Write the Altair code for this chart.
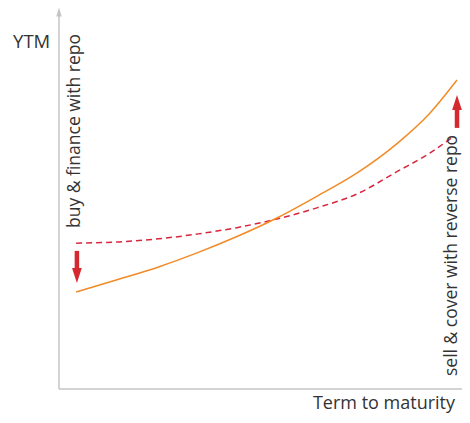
import altair as alt
import pandas as pd

# Curves (term to maturity, yield)
term_solid = [0.43, 1.5, 2.5, 3.5, 4.5, 5.5, 6.5, 7.5, 8.5, 9.3, 10.0]
ytm_solid = [3.14, 3.55, 3.95, 4.42, 4.95, 5.55, 6.25, 7.0, 7.95, 8.9, 10.0]

term_dash = [0.43, 1.5, 2.5, 3.5, 4.5, 5.5, 6.5, 7.5, 8.5, 9.3, 9.9]
ytm_dash = [4.72, 4.76, 4.86, 5.02, 5.23, 5.51, 5.87, 6.32, 7.04, 7.62, 8.16]

# annotation texts
label_left = "buy & finance with repo"
label_right = "sell & cover with reverse repo"
y_title = "YTM"
x_title = "Term to maturity"

FONT = "Open Sans"
ORANGE = "#f28a26"
RED = "#d7263d"
ARROW_RED = "#d42a2f"
AXIS_GREY = "#c4c4c4"
TEXT = "#333333"

xs = alt.Scale(domain=[0, 10], range=[51, 449], nice=False, zero=False)
ys = alt.Scale(domain=[0, 10], range=[381, 72], nice=False, zero=False)

def X(field="x"):
    return alt.X(f"{field}:Q", scale=xs, axis=None)

def Y(field="y"):
    return alt.Y(f"{field}:Q", scale=ys, axis=None)

solid = alt.Chart(pd.DataFrame({"x": term_solid, "y": ytm_solid})).mark_line(
    color=ORANGE, strokeWidth=1.5, interpolate="monotone"
).encode(x=X(), y=Y())

dashed = alt.Chart(pd.DataFrame({"x": term_dash, "y": ytm_dash})).mark_line(
    color=RED, strokeWidth=1.5, strokeDash=[6, 4], interpolate="monotone"
).encode(x=X(), y=Y())

# axes with arrow heads
axes_df = pd.DataFrame({"x": [0, 0], "y": [0, 0], "x2": [0, 10.4], "y2": [12.1, 0]})
axes = alt.Chart(axes_df).mark_rule(color=AXIS_GREY, strokeWidth=1.5).encode(
    x=X(), y=Y(), x2="x2:Q", y2="y2:Q"
)
yhead = alt.Chart(pd.DataFrame({"x": [0], "y": [12.2]})).mark_point(
    shape="M-0.6,1L0.6,1L0,-1Z", filled=True, size=81, color=AXIS_GREY, opacity=1
).encode(x=X(), y=Y())

# red arrows
shafts_df = pd.DataFrame({"x": [0.45, 10.0], "y": [4.47, 8.45], "y2": [3.85, 9.1]})
shafts = alt.Chart(shafts_df).mark_rule(color=ARROW_RED, strokeWidth=4.5).encode(
    x=X(), y=Y(), y2="y2:Q"
)
head_down = alt.Chart(pd.DataFrame({"x": [0.45], "y": [3.67]})).mark_point(
    shape="M-0.65,-1L0.65,-1L0,1Z", filled=True, size=225, color=ARROW_RED, opacity=1
).encode(x=X(), y=Y())
head_up = alt.Chart(pd.DataFrame({"x": [10.0], "y": [9.27]})).mark_point(
    shape="M-0.65,1L0.65,1L0,-1Z", filled=True, size=225, color=ARROW_RED, opacity=1
).encode(x=X(), y=Y())

# rotated labels
rot_df = pd.DataFrame({"x": [0.40, 9.87], "y": [5.21, 0.42], "t": [label_left, label_right]})
rot_text = alt.Chart(rot_df).mark_text(
    angle=270, align="left", baseline="middle", font=FONT, fontSize=17.5, color=TEXT
).encode(x=X(), y=Y(), text="t:N")

ytitle = alt.Chart(pd.DataFrame({"x": [-0.22], "y": [11.23], "t": [y_title]})).mark_text(
    align="right", baseline="middle", font=FONT, fontSize=18.5, color=TEXT
).encode(x=X(), y=Y(), text="t:N")

xtitle = alt.Chart(pd.DataFrame({"x": [9.95], "y": [-0.66], "t": [x_title]})).mark_text(
    align="right", baseline="alphabetic", font=FONT, fontSize=18, color=TEXT
).encode(x=X(), y=Y(), text="t:N")

chart = alt.layer(
    axes, yhead, dashed, solid, shafts, head_down, head_up, rot_text, ytitle, xtitle
).properties(
    width=454, height=407, padding=0, autosize=alt.AutoSizeParams(type="none")
).configure_view(strokeWidth=0)

chart.save("out.html", embed_options={"renderer": "svg", "actions": False})
